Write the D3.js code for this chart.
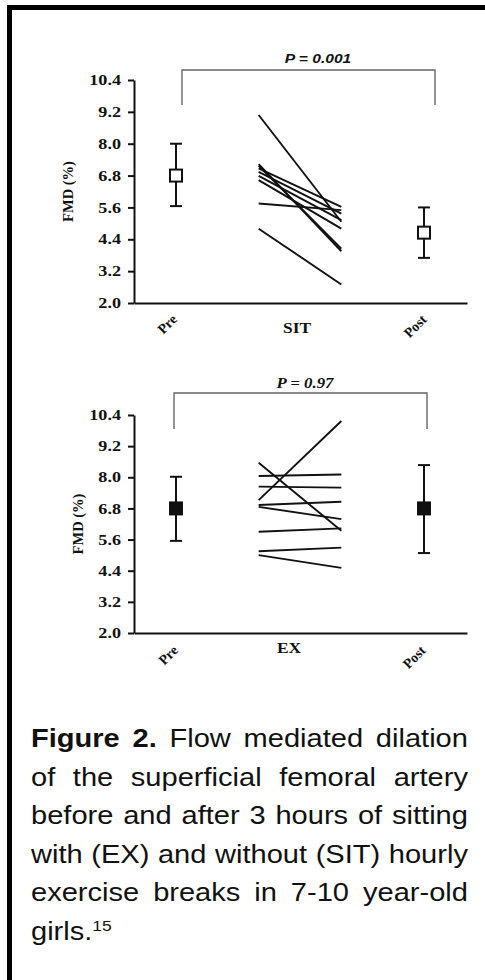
<!DOCTYPE html>
<html>
<head>
<meta charset="utf-8">
<script src="https://cdn.jsdelivr.net/npm/d3@7"></script>
<style>
  body { margin: 0; background: #fff; }
  #wrap { position: relative; width: 485px; height: 980px; overflow: hidden; }
  svg { position: absolute; left: 0; top: 0; }
  #caption {
    position: absolute; left: 31px; top: 719px; width: 376px;
    font-family: "Liberation Sans", Arial, sans-serif; font-size: 25px;
    line-height: 38.5px; text-align: justify; color: #111;
    transform: scaleX(1.162); transform-origin: 0 0;
  }
  #caption sup { font-size: 15px; line-height: 0; }
</style>
</head>
<body>
<div id="wrap"></div>
<script>
// values
const yTicks = [2.0, 3.2, 4.4, 5.6, 6.8, 8.0, 9.2, 10.4];
const topLabels = ["Pre", "SIT", "Post"];
const bottomLabels = ["Pre", "EX", "Post"];

// individual girls, start -> end of 3 h sitting
const sitStart = [9.08, 4.80, 5.75, 7.23, 7.17, 7.07, 6.94, 6.79, 6.63];
const sitEnd   = [5.06, 2.70, 5.50, 3.95, 4.05, 5.62, 5.37, 5.12, 4.80];
const exStart  = [7.12, 8.56, 8.05, 7.64, 6.93, 6.86, 5.90, 5.15, 5.00];
const exEnd    = [10.17, 5.94, 8.11, 7.60, 7.06, 6.39, 6.03, 5.29, 4.51];

// mean, lower, upper
const sitPre  = [6.80, 5.65, 8.00];
const sitPost = [4.65, 3.70, 5.60];
const exPre   = [6.80, 5.55, 8.02];
const exPost  = [6.80, 5.08, 8.47];

const topP = "P = 0.001";
const bottomP = "P = 0.97";

const wrap = d3.select("#wrap");
const svg = wrap.append("svg").attr("width", 485).attr("height", 980);

// frame (top and left edges only visible)
svg.append("rect").attr("x", 7).attr("y", 5).attr("width", 480).attr("height", 5).attr("fill", "#000");
svg.append("rect").attr("x", 7).attr("y", 5).attr("width", 5).attr("height", 980).attr("fill", "#000");

const serif = "'Liberation Serif', 'Times New Roman', serif";
const sans = "'Liberation Sans', Arial, sans-serif";

function panel(o) {
  const g = svg.append("g");
  const y = d3.scaleLinear().domain([2.0, 10.4]).range([o.yBottom, o.yTop]);
  const x = d3.scaleLinear().domain([0, 3]).range([176, 424]);
  const xAxisScale = d3.scaleLinear().domain([0, 1]).range([134, 467]);

  // y axis
  const ya = g.append("g").attr("transform", "translate(134,0)")
    .call(d3.axisLeft(y).tickValues(yTicks).tickFormat(d3.format(".1f"))
      .tickSize(6).tickSizeOuter(0));
  ya.select(".domain").attr("stroke-width", 2).attr("stroke", "#111");
  ya.selectAll(".tick line").attr("stroke-width", 2).attr("stroke", "#111");
  ya.selectAll(".tick text")
    .attr("x", -13 / 1.25)
    .attr("transform", "scale(1.25,1)")
    .attr("font-family", serif).attr("font-weight", "bold")
    .attr("font-size", 14.5).attr("fill", "#111");

  // x axis line
  const xa = g.append("g").attr("transform", `translate(0,${o.yBottom})`)
    .call(d3.axisBottom(xAxisScale).ticks(0).tickSizeOuter(0));
  xa.select(".domain").attr("stroke-width", 2).attr("stroke", "#111");

  // y label
  g.append("text")
    .attr("transform", `translate(${o.labelX},${(o.yTop + o.yBottom) / 2}) rotate(-90)`)
    .attr("text-anchor", "middle").attr("dy", "0.35em")
    .attr("font-family", serif).attr("font-weight", "bold").attr("font-size", 14.5)
    .attr("fill", "#111")
    .text("FMD (%)");

  // paired lines
  const pairs = o.start.map((s, i) => [s, o.end[i]]);
  g.selectAll("line.pair").data(pairs).enter().append("line")
    .attr("class", "pair")
    .attr("x1", x(1)).attr("x2", x(2))
    .attr("y1", d => y(d[0])).attr("y2", d => y(d[1]))
    .attr("stroke", "#111").attr("stroke-width", 1.9);

  // mean +- error
  const summ = [[0, o.pre], [3, o.post]];
  const eb = g.selectAll("g.eb").data(summ).enter().append("g").attr("class", "eb");
  eb.append("line")
    .attr("x1", d => x(d[0])).attr("x2", d => x(d[0]))
    .attr("y1", d => y(d[1][1])).attr("y2", d => y(d[1][2]))
    .attr("stroke", "#111").attr("stroke-width", 2);
  [1, 2].forEach(k => {
    eb.append("line")
      .attr("x1", d => x(d[0]) - 6).attr("x2", d => x(d[0]) + 6)
      .attr("y1", d => y(d[1][k])).attr("y2", d => y(d[1][k]))
      .attr("stroke", "#111").attr("stroke-width", 2);
  });
  eb.append("rect")
    .attr("x", d => x(d[0]) - 6).attr("y", d => y(d[1][0]) - 6)
    .attr("width", 12).attr("height", 12)
    .attr("fill", o.filled ? "#111" : "#fff")
    .attr("stroke", "#111").attr("stroke-width", 2);

  // x labels
  const lab = o.labels;
  g.append("text")
    .attr("transform", `translate(${o.preLab[0]},${o.preLab[1]}) rotate(-45)`)
    .attr("text-anchor", "middle").attr("dy", "0.35em")
    .attr("font-family", serif).attr("font-weight", "bold").attr("font-size", 14)
    .attr("fill", "#111").text(lab[0]);
  g.append("text")
    .attr("transform", `translate(${o.midLab[0]},${o.midLab[1]}) scale(1.2,1)`)
    .attr("text-anchor", "middle")
    .attr("font-family", serif).attr("font-weight", "bold").attr("font-size", 14.5)
    .attr("fill", "#111").text(lab[1]);
  g.append("text")
    .attr("transform", `translate(${o.postLab[0]},${o.postLab[1]}) rotate(-45)`)
    .attr("text-anchor", "middle").attr("dy", "0.35em")
    .attr("font-family", serif).attr("font-weight", "bold").attr("font-size", 14)
    .attr("fill", "#111").text(lab[2]);

  // significance bracket
  const b = o.bracket;
  g.append("path")
    .attr("d", `M${b[0]},${b[3]}V${b[2]}H${b[1]}V${b[3]}`)
    .attr("fill", "none").attr("stroke", "#666").attr("stroke-width", 1.4);
  g.append("text")
    .attr("transform", `translate(${o.pPos[0]},${o.pPos[1]}) scale(1.2,1)`)
    .attr("text-anchor", "middle")
    .attr("font-family", o.pFont).attr("font-weight", "bold").attr("font-style", "italic")
    .attr("font-size", o.pSize).attr("fill", "#111")
    .text(o.p);
}

panel({
  yTop: 80, yBottom: 303, labelX: 68,
  start: sitStart, end: sitEnd, pre: sitPre, post: sitPost, filled: false,
  labels: topLabels, preLab: [167, 324], midLab: [297, 333], postLab: [415, 326],
  bracket: [182, 435, 70, 105], p: topP, pPos: [318, 63], pFont: sans, pSize: 13
});

panel({
  yTop: 415, yBottom: 633, labelX: 78,
  start: exStart, end: exEnd, pre: exPre, post: exPost, filled: true,
  labels: bottomLabels, preLab: [168, 655], midLab: [289, 653], postLab: [414, 657],
  bracket: [174, 427, 393, 429], p: bottomP, pPos: [305, 388], pFont: serif, pSize: 14
});

wrap.append("div").attr("id", "caption")
  .html("<b>Figure 2.</b> Flow mediated dilation of the superficial femoral artery before and after 3 hours of sitting with (EX) and without (SIT) hourly exercise breaks in 7-10 year-old girls.<sup>15</sup>");
</script>
</body>
</html>
